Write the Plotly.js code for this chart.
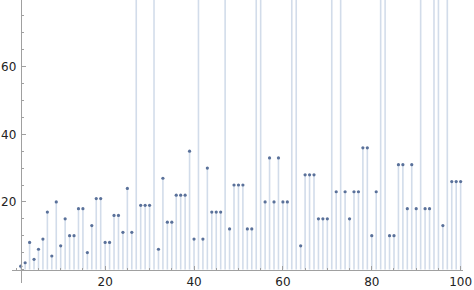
<!DOCTYPE html>
<html>
<head>
<meta charset="utf-8">
<script src="https://cdn.plot.ly/plotly-3.0.1.min.js"></script>
<style>html,body{margin:0;padding:0;background:#fff}#chart{width:474px;height:290px}</style>
</head>
<body>
<div id="chart"></div>
<script>
// n = 1..100
const n = Array.from({length: 100}, (_, i) => i + 1);
// values (tall stems continue beyond the top of the plot)
const values = [
  1, 2, 8, 3, 6, 9, 17, 4, 20, 7,
  15, 10, 10, 18, 18, 5, 13, 21, 21, 8,
  8, 16, 16, 11, 24, 11, 112, 19, 19, 19,
  107, 6, 27, 14, 14, 22, 22, 22, 35, 9,
  110, 9, 30, 17, 17, 17, 105, 12, 25, 25,
  25, 12, 12, 113, 113, 20, 33, 20, 33, 20,
  20, 108, 108, 7, 28, 28, 28, 15, 15, 15,
  103, 23, 116, 23, 15, 23, 23, 36, 36, 10,
  23, 111, 111, 10, 10, 31, 31, 18, 31, 18,
  93, 18, 18, 106, 106, 13, 119, 26, 26, 26
];
const xTicks = [20, 40, 60, 80, 100];
const yTicks = [20, 40, 60];

const stemX = [], stemY = [];
n.forEach((k, i) => { stemX.push(k, k, null); stemY.push(0, values[i], null); });

const stems = {
  x: stemX, y: stemY, type: 'scatter', mode: 'lines',
  line: {color: 'rgba(94,129,181,0.28)', width: 1.6},
  hoverinfo: 'skip', showlegend: false
};
const pts = {
  x: n, y: values, type: 'scatter', mode: 'markers',
  marker: {color: '#5a719a', size: 3.2},
  showlegend: false
};

const axisCol = '#a0a0a0';
const layout = {
  width: 474, height: 290,
  margin: {l: 12, r: 11, t: 0, b: 7},
  paper_bgcolor: '#fff', plot_bgcolor: '#fff',
  font: {family: 'DejaVu Sans, sans-serif', size: 12, color: '#222'},
  xaxis: {
    range: [-0.96, 100.53], anchor: 'free', position: 13.5 / 283,
    showgrid: false, zeroline: false, showline: true, linecolor: axisCol, linewidth: 1,
    tickmode: 'array', tickvals: xTicks, ticks: 'inside', ticklen: 4, tickcolor: axisCol,
    ticklabelstandoff: 1,
    minor: {dtick: 5, tick0: 0, ticks: 'inside', ticklen: 2, tickcolor: axisCol, showgrid: false}
  },
  yaxis: {
    range: [-3.99, 79.73], anchor: 'free', position: 8.7 / 451,
    showgrid: false, zeroline: false, showline: true, linecolor: axisCol, linewidth: 1,
    tickmode: 'array', tickvals: yTicks, ticks: 'inside', ticklen: 4, tickcolor: axisCol,
    ticklabelstandoff: 2,
    minor: {dtick: 5, tick0: 0, ticks: 'inside', ticklen: 2, tickcolor: axisCol, showgrid: false}
  }
};

Plotly.newPlot('chart', [stems, pts], layout, {displayModeBar: false, staticPlot: true});
</script>
</body>
</html>
